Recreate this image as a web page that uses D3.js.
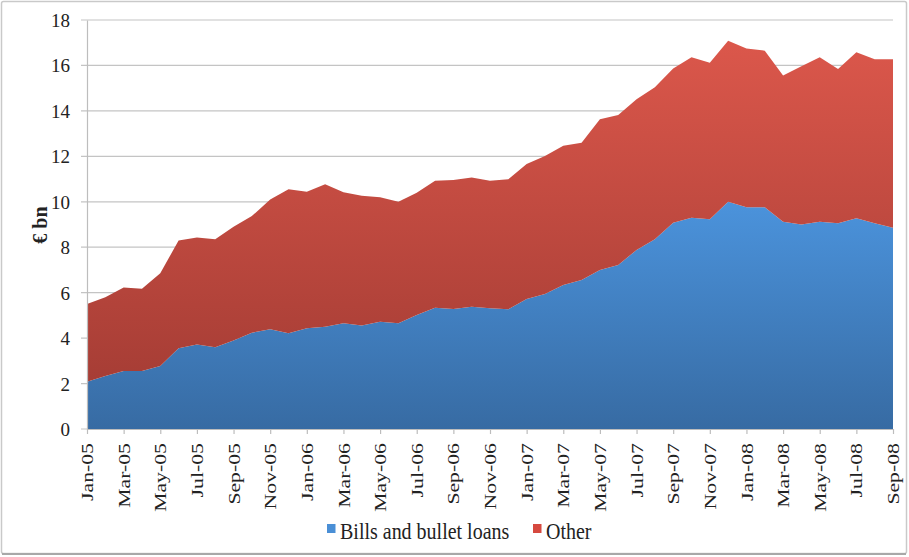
<!DOCTYPE html>
<html>
<head>
<meta charset="utf-8">
<script src="https://cdn.jsdelivr.net/npm/d3@7"></script>
<style>
  html, body { margin: 0; padding: 0; background: #fff; }
  svg { display: block; }
  text { font-family: "Liberation Serif", "Times New Roman", serif; }
</style>
</head>
<body>
<svg id="chart" width="909" height="557"></svg>
<script>
const months = ["Jan-05","Feb-05","Mar-05","Apr-05","May-05","Jun-05","Jul-05","Aug-05","Sep-05","Oct-05","Nov-05","Dec-05",
  "Jan-06","Feb-06","Mar-06","Apr-06","May-06","Jun-06","Jul-06","Aug-06","Sep-06","Oct-06","Nov-06","Dec-06",
  "Jan-07","Feb-07","Mar-07","Apr-07","May-07","Jun-07","Jul-07","Aug-07","Sep-07","Oct-07","Nov-07","Dec-07",
  "Jan-08","Feb-08","Mar-08","Apr-08","May-08","Jun-08","Jul-08","Aug-08","Sep-08"];
const bills = [2.08,2.33,2.55,2.55,2.77,3.55,3.72,3.60,3.89,4.24,4.39,4.21,
  4.43,4.50,4.65,4.55,4.72,4.65,5.02,5.34,5.28,5.38,5.31,5.27,
  5.72,5.94,6.34,6.56,7.00,7.22,7.88,8.35,9.08,9.30,9.23,10.00,
  9.76,9.76,9.12,9.00,9.12,9.05,9.27,9.05,8.86];
const other = [3.42,3.47,3.68,3.62,4.08,4.75,4.71,4.75,5.01,5.13,5.71,6.34,
  6.01,6.27,5.77,5.72,5.48,5.35,5.38,5.59,5.68,5.69,5.62,5.72,
  5.94,6.07,6.13,6.04,6.63,6.60,6.63,6.69,6.79,7.06,6.89,7.09,
  6.99,6.89,6.44,6.97,7.24,6.79,7.31,7.22,7.41];
const seriesNames = ["Bills and bullet loans", "Other"];
const yTicks = [0,2,4,6,8,10,12,14,16,18];
const xTickLabels = months.filter((m, i) => i % 2 === 0);

const FONT = "'Liberation Serif', 'Times New Roman', serif";
const svg = d3.select("#chart");
const W = 909, H = 557;
const mLeft = 87, mRight = 893, mTop = 20, mBottom = 429;

// outer border
svg.append("rect").attr("x", 1.5).attr("y", 1.5).attr("width", W - 4).attr("height", H - 5)
  .attr("fill", "#fff").attr("stroke", "#c9c9c9").attr("stroke-width", 1.5).attr("rx", 2);
svg.append("line").attr("x1", 2).attr("x2", W - 3).attr("y1", H - 3).attr("y2", H - 3)
  .attr("stroke", "#a8a8a8").attr("stroke-width", 2);

const x = d3.scalePoint().domain(months).range([mLeft, mRight]);
const y = d3.scaleLinear().domain([0, 18]).range([mBottom, mTop]);

const defs = svg.append("defs");
function grad(id, y1, y2, c1, c2) {
  const g = defs.append("linearGradient").attr("id", id).attr("gradientUnits", "userSpaceOnUse")
    .attr("x1", 0).attr("x2", 0).attr("y1", y1).attr("y2", y2);
  g.append("stop").attr("offset", 0).attr("stop-color", c1);
  g.append("stop").attr("offset", 1).attr("stop-color", c2);
}
grad("gBlue", y(10), y(0), "#4b93dc", "#376ba3");
grad("gRed", y(17), y(2), "#db574b", "#a63d35");

// gridlines
svg.append("g").selectAll("line").data(yTicks).join("line")
  .attr("x1", mLeft - 6).attr("x2", mRight)
  .attr("y1", d => y(d)).attr("y2", d => y(d))
  .attr("stroke", "#c4c4c4").attr("stroke-width", 1.2);

const table = months.map((m, i) => ({ month: m, bills: bills[i], other: other[i] }));
const stack = d3.stack().keys(["bills", "other"]);
const layers = stack(table);
const fills = ["url(#gBlue)", "url(#gRed)"];
const area = d3.area()
  .x(d => x(d.data.month))
  .y0(d => y(d[0]))
  .y1(d => y(d[1]));
svg.append("g").selectAll("path").data(layers).join("path")
  .attr("d", area).attr("fill", (d, i) => fills[i]);

// y axis
const yAxis = d3.axisLeft(y).tickValues(yTicks).tickSize(0).tickPadding(0);
const yg = svg.append("g").attr("transform", `translate(${mLeft},0)`).call(yAxis);
yg.attr("font-family", FONT);
yg.select(".domain").attr("stroke", "#bdbdbd").attr("stroke-width", 1.2);
yg.selectAll("text").attr("x", -17).attr("dy", "0.34em")
  .style("font-family", FONT).attr("font-size", 19).attr("fill", "#222");

// x axis
const xAxis = d3.axisBottom(x).tickValues(xTickLabels).tickSize(5).tickSizeOuter(0);
const xg = svg.append("g").attr("transform", `translate(0,${mBottom})`).call(xAxis);
xg.attr("font-family", FONT);
xg.select(".domain").attr("stroke", "#bdbdbd").attr("stroke-width", 1.2);
xg.selectAll(".tick line").attr("stroke", "#bdbdbd").attr("stroke-width", 1.2);
xg.selectAll("text")
  .style("font-family", FONT).attr("font-size", 17).attr("fill", "#222")
  .attr("text-anchor", "end")
  .attr("x", 0).attr("y", 0).attr("dy", "0.33em")
  .attr("transform", "translate(0,14) rotate(-90) scale(1.28,1)");

// y label
svg.append("text").attr("transform", "translate(40,225) rotate(-90)")
  .attr("text-anchor", "middle").attr("dy", "0.33em")
  .style("font-family", FONT).attr("font-size", 20)
  .attr("font-weight", "bold").attr("fill", "#222").text("€ bn");

// legend
const legend = [
  { name: seriesNames[0], color: "#4a8fd6", x: 327 },
  { name: seriesNames[1], color: "#d6493f", x: 533 }
];
const lg = svg.append("g");
legend.forEach(l => {
  lg.append("rect").attr("x", l.x).attr("y", 524).attr("width", 8.5).attr("height", 9).attr("fill", l.color);
  lg.append("text").attr("x", l.x + 13).attr("y", 539)
    .style("font-family", FONT).attr("font-size", 20)
    .attr("fill", "#222").attr("transform", `translate(0,${-539*0.12}) scale(1,1.12)`)
    .text(l.name);
});
</script>
</body>
</html>
